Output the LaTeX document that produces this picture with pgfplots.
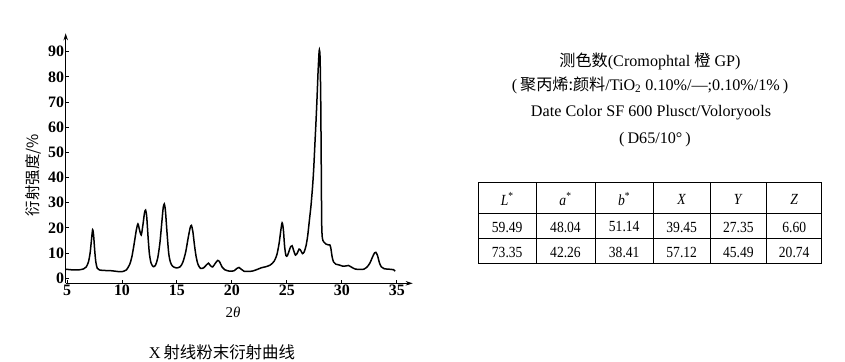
\documentclass[border=0pt]{standalone}
\usepackage{fontspec}
\setmainfont{Liberation Serif}
\newfontfamily\cjk{Noto Sans CJK SC}
\newfontfamily\tabfont{Liberation Serif}[FakeStretch=0.88]
\usepackage{pgfplots}
\pgfplotsset{compat=1.18}
\usetikzlibrary{arrows.meta}

% X-ray powder diffraction pattern: 2theta vs. relative intensity (%)
\pgfplotstableread{
x      y
4.88   3.6
5.3    3.4
5.8    3.3
6.2    3.4
6.5    3.7
6.75   4.5
6.95   6.5
7.1    10
7.22   15
7.33   19.3
7.42   17
7.52   11
7.62   6.5
7.75   4
7.95   3.3
8.4    3.1
9.0    3.0
9.4    2.8
9.8    2.6
10.1   2.7
10.4   3.3
10.7   5.5
10.9   8.5
11.1   13.5
11.3   19
11.45  21.6
11.58  19.5
11.75  17.2
11.9   21
12.05  26
12.15  27.1
12.25  24.5
12.38  16
12.5   9.5
12.65  6
12.85  4.6
13.05  5.2
13.25  8
13.45  14
13.62  22
13.75  28
13.85  29.5
13.95  27
14.1   18
14.25  10
14.4   6.5
14.6   4.8
14.95  4.1
15.3   4.6
15.55  6.5
15.8   10.5
16.0   15.5
16.2   20
16.32  21
16.45  18.5
16.6   13
16.75  8.5
16.92  5.5
17.15  3.9
17.45  4.2
17.7   5.4
17.87  6
18.05  5
18.25  4.5
18.5   6
18.72  7.1
18.9   6.4
19.1   4.5
19.35  3.4
19.8   2.8
20.2   3.0
20.45  3.9
20.65  4.3
20.85  3.6
21.1   2.8
21.5   2.7
21.9   2.9
22.3   3.5
22.7   4.2
23.1   4.6
23.5   5.3
23.85  6.8
24.1   9.5
24.3   14
24.45  19
24.57  22
24.68  19.5
24.8   12.5
24.92  9
25.05  9
25.2   10.8
25.35  12.6
25.48  12.9
25.62  11
25.78  9.2
25.95  10
26.12  11.6
26.27  11
26.42  9.8
26.58  10.5
26.75  13
26.9   17
27.05  23
27.2   29
27.35  37
27.45  44
27.56  54
27.66  63
27.75  72
27.84  82
27.92  89
27.96  90.7
28.02  88
28.08  72
28.13  45
28.17  22
28.23  16
28.35  14.5
28.55  13.6
28.75  13.3
28.9   13.3
29.0   12
29.12  8.5
29.25  6.5
29.45  5.6
29.75  5.3
30.1   4.8
30.4   4.9
30.6   5.1
30.85  4.5
31.2   3.7
31.6   3.5
32.0   3.6
32.3   4.5
32.55  6
32.8   8.5
32.98  10.1
33.1   10.3
33.25  9
33.42  6.2
33.6   4.5
33.85  3.8
34.3   3.6
34.7   3.4
34.85  2.8
}\xrdtable

\begin{document}
\begin{tikzpicture}
\path[use as bounding box] (0,0) rectangle (845bp,-362bp);

\begin{axis}[
  at={(65.7bp,-283.3bp)}, anchor=south west,
  scale only axis, width=347bp, height=250bp,
  xmin=4.88, xmax=36.45, ymin=-2, ymax=97.3,
  axis lines=left,
  axis line style={line width=1.1bp, -{Stealth[length=7bp,width=4.5bp]}},
  xtick={5,10,...,35}, ytick={0,10,...,90},
  tick align=inside, major tick length=3.5bp,
  tick style={line width=0.9bp, black},
  /pgf/number format/assume math mode=true,
  tick label style={font=\fontsize{16}{16}\selectfont\bfseries},
  xticklabel style={inner sep=1.2bp},
  yticklabel style={inner sep=1.5bp},
]
\addplot[black, line width=1.5bp, smooth, tension=0.45] table[x=x, y=y] {\xrdtable};
\end{axis}

% axis titles and caption
\node[rotate=90, font=\cjk\fontsize{15.5}{16}\selectfont] at (33bp,-175bp) {衍射强度/\%};
\node[font=\fontsize{15}{15}\selectfont] at (233bp,-312bp) {2\textit{θ}};
\node[font=\fontsize{16.5}{17}\selectfont] at (222bp,-352bp) {X\,{\cjk 射线粉末衍射曲线}};

% colour measurement notes
\begin{scope}[every node/.style={font=\fontsize{16.2}{17}\selectfont, inner sep=0pt}]
\node at (650bp,-61.7bp) {{\cjk 测色数}(Cromophtal {\cjk 橙} GP)};
\node at (650bp,-85bp) {(\hspace{3bp}{\cjk 聚丙烯:颜料}/TiO\textsubscript{2} 0.10\%/—;0.10\%/1\%\hspace{3bp})};
\node at (651bp,-113bp) {Date Color SF 600 Plusct/Voloryools};
\node at (655bp,-140bp) {(\hspace{3bp}D65/10°\hspace{3bp})};
\end{scope}

% colour values table
\draw[line width=0.9bp] (478.3bp,-213.3bp) -- (821.7bp,-213.3bp);
\draw[line width=0.9bp] (478.3bp,-238.3bp) -- (821.7bp,-238.3bp);
\foreach \cx in {536,595,653.3,710,766.7}
  \draw[line width=0.9bp] (\cx bp,-182.7bp) -- (\cx bp,-263.3bp);
\draw[line width=1.3bp] (478.3bp,-182.7bp) rectangle (821.7bp,-263.3bp);

\begin{scope}[every node/.style={font=\tabfont\fontsize{15.5}{16}\selectfont}]
\node at (507.2bp,-199bp) {\textit{L}\textsuperscript{*}};
\node at (565.5bp,-199bp) {\textit{a}\textsuperscript{*}};
\node at (624.2bp,-199bp) {\textit{b}\textsuperscript{*}};
\node at (681.7bp,-199bp) {\textit{X}};
\node at (738.3bp,-199bp) {\textit{Y}};
\node at (794.2bp,-199bp) {\textit{Z}};
\node at (507.2bp,-227bp) {59.49};
\node at (565.5bp,-227bp) {48.04};
\node at (624.2bp,-227bp) {51.14};
\node at (681.7bp,-227bp) {39.45};
\node at (738.3bp,-227bp) {27.35};
\node at (794.2bp,-227bp) {6.60};
\node at (507.2bp,-252bp) {73.35};
\node at (565.5bp,-252bp) {42.26};
\node at (624.2bp,-252bp) {38.41};
\node at (681.7bp,-252bp) {57.12};
\node at (738.3bp,-252bp) {45.49};
\node at (794.2bp,-252bp) {20.74};
\end{scope}
\end{tikzpicture}
\end{document}
